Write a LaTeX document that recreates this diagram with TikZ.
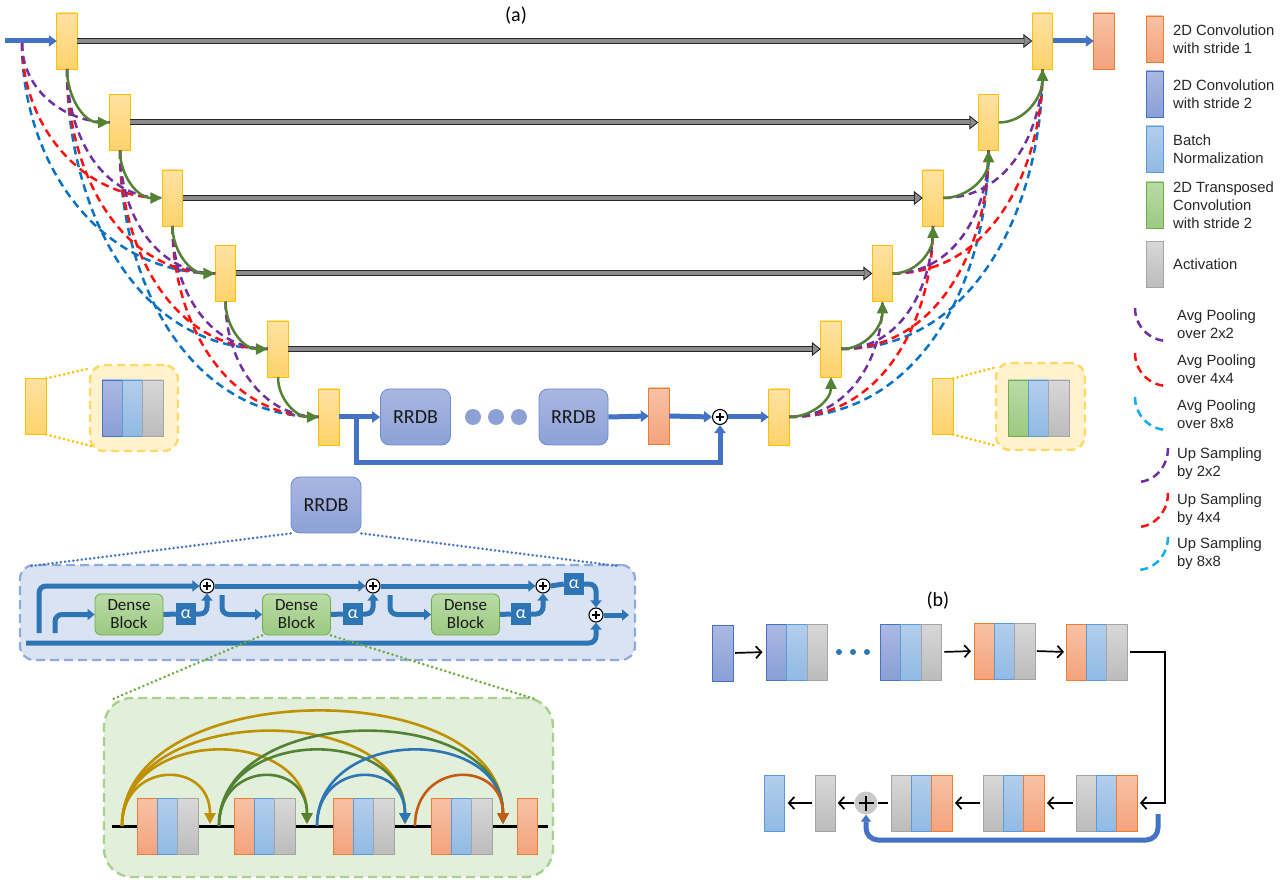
\documentclass[tikz,border=0pt]{standalone}
\usepackage{fontspec}
\setmainfont{Carlito}
\newfontfamily\legendfont{Liberation Sans}
\usetikzlibrary{arrows.meta,calc}

\definecolor{ylwT}{HTML}{FFE2A3}
\definecolor{ylwB}{HTML}{FFD36B}
\definecolor{ylwD}{HTML}{FFC000}
\definecolor{orgT}{HTML}{F7C2A6}
\definecolor{orgB}{HTML}{F4A37C}
\definecolor{orgD}{HTML}{ED7D31}
\definecolor{cvT}{HTML}{ABB9E2}
\definecolor{cvB}{HTML}{8A9FD6}
\definecolor{cvD}{HTML}{4472C4}
\definecolor{bnT}{HTML}{B3CEEC}
\definecolor{bnB}{HTML}{91BAE4}
\definecolor{bnD}{HTML}{5B9BD5}
\definecolor{acT}{HTML}{D8D8D8}
\definecolor{acB}{HTML}{BCBCBC}
\definecolor{acD}{HTML}{A5A5A5}
\definecolor{trT}{HTML}{BADBA6}
\definecolor{trB}{HTML}{9CC982}
\definecolor{trD}{HTML}{70AD47}
\definecolor{rbT}{HTML}{A9B7E1}
\definecolor{rbB}{HTML}{8DA1D7}
\definecolor{flow}{HTML}{4472C4}
\definecolor{flowdk}{HTML}{2E75B6}
\definecolor{upgreen}{HTML}{548235}
\definecolor{poolA}{HTML}{7030A0}
\definecolor{poolB}{HTML}{FF1010}
\definecolor{poolC}{HTML}{0A72C4}
\definecolor{poolCl}{HTML}{12AEEE}
\definecolor{gold}{HTML}{BF9000}
\definecolor{rust}{HTML}{C55A11}
\definecolor{insetY}{HTML}{FFF2CC}
\definecolor{insetYd}{HTML}{FFD966}
\definecolor{rrdbBg}{HTML}{DAE3F3}
\definecolor{rrdbBd}{HTML}{8FAADC}
\definecolor{denseBg}{HTML}{E2EFDA}
\definecolor{denseBd}{HTML}{A9D18E}
\definecolor{skipgray}{HTML}{8C8C8C}
\definecolor{sumgray}{HTML}{C9C9C9}

\tikzset{
  strip/.style={rectangle, inner sep=0pt, outer sep=0pt, minimum width=20.3pt, minimum height=56pt, line width=0.8pt},
  featc/.style={strip, draw=ylwD, top color=ylwT, bottom color=ylwB},
  cvone/.style={strip, draw=orgD, top color=orgT, bottom color=orgB},
  cvtwo/.style={strip, draw=cvD, top color=cvT, bottom color=cvB},
  bnrm/.style={strip, draw=bnD, top color=bnT, bottom color=bnB},
  actv/.style={strip, draw=acD, top color=acT, bottom color=acB},
  tcnv/.style={strip, draw=trD, top color=trT, bottom color=trB},
  legbox/.style={minimum width=17pt, minimum height=46pt},
  legtext/.style={anchor=west, inner sep=0pt, align=left, font=\legendfont\fontsize{14.8}{18}\selectfont, text=black!85},
  rrdb/.style={rectangle, rounded corners=9pt, draw=cvD!80, line width=0.8pt, top color=rbT, bottom color=rbB, minimum width=70pt, minimum height=56pt, font=\fontsize{20}{20}\selectfont, text=black!90},
  dense/.style={rectangle, rounded corners=6pt, draw=trD, line width=0.8pt, top color=trT, bottom color=trB, minimum width=68pt, minimum height=41pt, align=center, inner sep=0pt, font=\fontsize{17}{18}\selectfont, text=black!90},
  abox/.style={rectangle, fill=flowdk, text=white, minimum width=20pt, minimum height=22pt, inner sep=0pt, font=\fontsize{18}{18}\selectfont},
  oplus/.style={circle, draw=black, fill=white, line width=1.1pt, minimum size=14pt, inner sep=0pt,
     path picture={\draw[line width=2pt] ([xshift=-4pt]path picture bounding box.center) -- ([xshift=4pt]path picture bounding box.center) ([yshift=-4pt]path picture bounding box.center) -- ([yshift=4pt]path picture bounding box.center);}},
  sumnode/.style={circle, fill=sumgray, minimum size=23pt, inner sep=0pt,
     path picture={\draw[line width=1.9pt] ([xshift=-7.5pt]path picture bounding box.center) -- ([xshift=7.5pt]path picture bounding box.center) ([yshift=-7.5pt]path picture bounding box.center) -- ([yshift=7.5pt]path picture bounding box.center);}},
  pool/.style={line width=2.5pt, dash pattern=on 8pt off 5pt},
  upg/.style={draw=upgreen, line width=2.5pt, -{Triangle[length=12pt,width=11pt]}},
  skiparrow/.style={draw=black!85, line width=6pt, -{Triangle[length=9pt,width=14pt,line width=0.9pt,fill=skipgray]},
     postaction={draw=skipgray, line width=4pt, shorten >=8.5pt, -}},
  flowarr/.style={draw=flow, line width=5pt, -{Triangle[length=8pt,width=11pt]}},
  rrarr/.style={draw=flowdk, line width=5pt, rounded corners=7pt, -{Triangle[length=7pt,width=11pt]}},
  rrln/.style={draw=flowdk, line width=5pt, rounded corners=7pt},
  blkarr/.style={draw=black, line width=1.7pt, -{Straight Barb[length=5.5pt,width=12pt,line width=1.7pt]}},
  dcarc/.style={line width=2.6pt, -{Triangle[length=11pt,width=11pt]}},
  dotln/.style={line width=3pt, line cap=round, dash pattern=on 0.01pt off 4.6pt},
  insetbox/.style={rectangle, rounded corners=14pt, fill=insetY, draw=insetYd, line width=2.4pt, dash pattern=on 8pt off 5pt},
}

% three adjacent layer strips: name, left x, centre y, three styles
\newcommand\layerstack[6]{%
  \node[#4, anchor=west] (#1a) at (#2,#3) {};
  \node[#5, anchor=west] (#1b) at (#1a.east) {};
  \node[#6, anchor=west] (#1c) at (#1b.east) {};
}

\begin{document}
\begin{tikzpicture}[x=1pt,y=-1pt]
\useasboundingbox (0,0) rectangle (1286,882);

\node[font=\fontsize{20}{20}\selectfont] (ta) at (516,16) {(a)};

% ---------- U-Net feature blocks ----------
\node[featc] (E0) at (67,41) {};
\node[featc] (E1) at (120,122.5) {};
\node[featc] (E2) at (172.5,198) {};
\node[featc] (E3) at (225.5,273.5) {};
\node[featc] (E4) at (278,349) {};
\node[featc] (E5) at (329,417) {};
\node[featc] (D0) at (1042.5,41) {};
\node[featc] (D1) at (988.5,122.5) {};
\node[featc] (D2) at (933,198) {};
\node[featc] (D3) at (882.5,273.5) {};
\node[featc] (D4) at (831,349) {};
\node[featc] (D5) at (779,417) {};
\node[cvone] (OUT) at (1104,41) {};

\coordinate (inL) at (5,41);
\coordinate (in0) at (22,43);

% pooling paths on the encoder side
\foreach \s/\t in {in0/E3, E0.south/E4, E1.south/E5}
  \draw[pool, poolC] (\s) to[out=-90,in=180] (\t.west);
\foreach \s/\t in {in0/E2, E0.south/E3, E1.south/E4, E2.south/E5}
  \draw[pool, poolB] (\s) to[out=-90,in=180] (\t.west);
\foreach \s/\t in {in0/E1, E0.south/E2, E1.south/E3, E2.south/E4, E3.south/E5}
  \draw[pool, poolA] (\s) to[out=-90,in=180] (\t.west);

% up-sampling paths on the decoder side
\foreach \s/\t in {D4/D0, D5/D1}
  \draw[pool, poolC] (\s.east) to[out=0,in=-90] (\t.south);
\foreach \s/\t in {D3/D0, D4/D1, D5/D2}
  \draw[pool, poolB] (\s.east) to[out=0,in=-90] (\t.south);
\foreach \s/\t in {D2/D0, D3/D1, D4/D2, D5/D3}
  \draw[pool, poolA] (\s.east) to[out=0,in=-90] (\t.south);

% down / up paths
\foreach \a/\b in {E0/E1,E1/E2,E2/E3,E3/E4,E4/E5}
  \draw[upg] (\a.south) to[out=-90,in=180] (\b.west);
\foreach \a/\b in {D5/D4,D4/D3,D3/D2,D2/D1,D1/D0}
  \draw[upg] (\a.east) to[out=0,in=-90] (\b.south);

% skip connections
\foreach \i in {0,...,4}
  \draw[skiparrow] (E\i.east) -- (D\i.west);

\draw[flowarr] (inL) -- (E0.west);
\draw[flowarr] (D0.east) -- (OUT.west);

% ---------- bottleneck ----------
\node[rrdb] (R1) at (415.5,417) {RRDB};
\node[rrdb, minimum width=69pt] (R2) at (573.5,417) {RRDB};
\foreach \x [count=\k] in {473,496,519}
  \node[circle, fill=rbB, minimum size=16pt, inner sep=0pt] (dot\k) at (\x,417) {};
\node[cvone] (BO) at (659,416) {};
\node[oplus, minimum size=15pt] (BA) at (720,417) {};
\coordinate (lp) at (356,417);
\coordinate (lq) at (356,463);
\draw[flowarr] (E5.east) -- (R1.west);
\draw[flowarr] (lp) -- (lq) -| (BA.south);
\draw[flowarr] (R2.east) -- (BO.west);
\draw[flowarr] (BO.east) -- (BA.west);
\draw[flowarr] (BA.east) -- (D5.west);

% ---------- block insets ----------
\node[featc] (LS) at (36,406.5) {};
\node[insetbox, minimum width=88pt, minimum height=86pt] (LB) at (134,408) {};
\layerstack{lb}{102}{408}{cvtwo}{bnrm}{actv}
\coordinate (lbt) at (91,368);
\coordinate (lbb) at (91,446);
\draw[dotln, ylwD] (LS.north east) -- (lbt);
\draw[dotln, ylwD] (LS.south east) -- (lbb);

\node[featc] (RS) at (943,406.5) {};
\node[insetbox, minimum width=89pt, minimum height=87pt] (RBX) at (1040.5,406.5) {};
\layerstack{rb}{1008}{408}{tcnv}{bnrm}{actv}
\coordinate (rbt) at (997,367);
\coordinate (rbb) at (997,446);
\draw[dotln, ylwD] (RS.north east) -- (rbt);
\draw[dotln, ylwD] (RS.south east) -- (rbb);

% ---------- RRDB detail ----------
\node[rrdb] (RS1) at (326,505) {RRDB};
\node[rectangle, rounded corners=14pt, fill=rrdbBg, draw=rrdbBd, line width=2.2pt, dash pattern=on 9pt off 5pt, minimum width=615pt, minimum height=95pt] (RBOX) at (327.5,612.5) {};
\coordinate (rbl) at (31,566);
\coordinate (rbr) at (618,566);
\draw[dotln, flow, line width=2.8pt, dash pattern=on 0.01pt off 4.2pt] (RS1.south west) -- (rbl);
\draw[dotln, flow, line width=2.8pt, dash pattern=on 0.01pt off 4.2pt] (RS1.south east) -- (rbr);

\node[dense] (DB1) at (129,614.5) {Dense\\Block};
\node[dense] (DB2) at (296.5,614.5) {Dense\\Block};
\node[dense] (DB3) at (465.5,614.5) {Dense\\Block};
\node[abox] (al1) at (186,614) {α};
\node[abox] (al2) at (353,614) {α};
\node[abox] (al3) at (521,614) {α};
\node[abox] (al4) at (574,584) {α};
\node[oplus] (c1) at (207,586) {};
\node[oplus] (c2) at (373,586) {};
\node[oplus] (c3) at (543,586) {};
\node[oplus] (c4) at (596,615) {};
\coordinate (ra) at (39,633);
\coordinate (rb) at (55,633);
\coordinate (rc) at (222,595);
\coordinate (rd) at (390,595);
\coordinate (re) at (26,643);
\coordinate (rf) at (629,615);

\draw[rrarr] (ra) |- (c1.west);
\draw[rrarr] (rb) |- (DB1.west);
\draw[rrln] (DB1.east) -- (al1.west);
\draw[rrarr] (al1.east) -| (c1.south);
\draw[rrarr] (c1.east) -- (c2.west);
\draw[rrarr] (rc) |- (DB2.west);
\draw[rrln] (DB2.east) -- (al2.west);
\draw[rrarr] (al2.east) -| (c2.south);
\draw[rrarr] (c2.east) -- (c3.west);
\draw[rrarr] (rd) |- (DB3.west);
\draw[rrln] (DB3.east) -- (al3.west);
\draw[rrarr] (al3.east) -| (c3.south);
\draw[rrln] (c3.east) -- (al4.west);
\draw[rrarr] (al4.east) -| (c4.north);
\draw[rrarr] (re) -| (c4.south);
\draw[rrarr] (c4.east) -- (rf);

% ---------- dense block detail ----------
\node[rectangle, rounded corners=28pt, fill=denseBg, draw=denseBd, line width=2.4pt, dash pattern=on 9pt off 5pt, minimum width=449pt, minimum height=179pt] (GBOX) at (328.5,787.5) {};
\coordinate (gbl) at (113,699);
\coordinate (gbr) at (535,699);
\draw[dotln, trD] (DB2.south west) -- (gbl);
\draw[dotln, trD] (DB2.south east) -- (gbr);

\coordinate (bl) at (112,826);
\coordinate (br) at (548,826);
\draw[line width=3pt] (bl) -- (br);
\layerstack{h1}{137}{826.5}{cvone}{bnrm}{actv}
\layerstack{h2}{234}{826.5}{cvone}{bnrm}{actv}
\layerstack{h3}{333}{826.5}{cvone}{bnrm}{actv}
\layerstack{h4}{431}{826.5}{cvone}{bnrm}{actv}
\node[cvone] (h5) at (527.5,826.5) {};

\coordinate (s0) at (122,826);
\coordinate (s1) at (219,826);
\coordinate (s2) at (317,826);
\coordinate (s3) at (415,826);
\coordinate (t1) at (210,824);
\coordinate (t2) at (307,824);
\coordinate (t3) at (405,824);
\coordinate (t4) at (503,824);
\foreach \s/\t/\c/\k in {s0/t4/gold/151, s0/t3/gold/124, s0/t2/gold/99, s0/t1/gold/65,
                         s1/t4/upgreen/124, s1/t3/upgreen/99, s1/t2/upgreen/65,
                         s2/t4/flowdk/99, s2/t3/flowdk/65, s3/t4/rust/65}
  \draw[dcarc, \c] (\s) .. controls ($(\s)+(0,-\k)$) and ($(\t)+(0,-\k)$) .. (\t);

% ---------- legend ----------
\node[cvone, legbox] (k1) at (1154.5,39) {};
\node[cvtwo, legbox] (k2) at (1154.5,94) {};
\node[bnrm, legbox] (k3) at (1154.5,149) {};
\node[tcnv, legbox] (k4) at (1154.5,205) {};
\node[actv, legbox] (k5) at (1154.5,264.5) {};
\node[legtext] (k1t) at (1173,39) {2D Convolution\\with stride 1};
\node[legtext] (k2t) at (1173,94) {2D Convolution\\with stride 2};
\node[legtext] (k3t) at (1173,149) {Batch\\Normalization};
\node[legtext] (k4t) at (1173,205) {2D Transposed\\Convolution\\with stride 2};
\node[legtext] (k5t) at (1173,264.5) {Activation};

\draw[pool, poolA] (1135,308) to[out=-90,in=180] (1168,341);
\draw[pool, poolB] (1135,353) to[out=-90,in=180] (1168,386);
\draw[pool, poolCl] (1135,397) to[out=-90,in=180] (1168,430);
\draw[pool, poolA] (1168,448) to[out=-90,in=0] (1137,482);
\draw[pool, poolB] (1168,493) to[out=-90,in=0] (1137,527);
\draw[pool, poolCl] (1168,537) to[out=-90,in=0] (1137,570);
\node[legtext] (p1t) at (1177,324.5) {Avg Pooling\\over 2x2};
\node[legtext] (p2t) at (1177,369.5) {Avg Pooling\\over 4x4};
\node[legtext] (p3t) at (1177,414) {Avg Pooling\\over 8x8};
\node[legtext] (u1t) at (1177,464) {Up Sampling\\by 2x2};
\node[legtext] (u2t) at (1177,509.5) {Up Sampling\\by 4x4};
\node[legtext] (u3t) at (1177,553.5) {Up Sampling\\by 8x8};

% ---------- (b) ----------
\node[font=\fontsize{20}{20}\selectfont] (tb) at (938,601) {(b)};
\node[cvtwo] (b0) at (723,653) {};
\layerstack{g1}{766.5}{652}{cvtwo}{bnrm}{actv}
\foreach \x [count=\k] in {839,853,867}
  \node[circle, fill=flowdk, minimum size=6pt, inner sep=0pt] (bd\k) at (\x,652) {};
\layerstack{g2}{880.5}{652}{cvtwo}{bnrm}{actv}
\layerstack{g3}{974}{651}{cvone}{bnrm}{actv}
\layerstack{g4}{1066}{652}{cvone}{bnrm}{actv}
\draw[blkarr, shorten <=2pt, shorten >=4pt] (b0.east) -- (g1a.west);
\draw[blkarr, shorten <=3pt, shorten >=3pt] (g2c.east) -- (g3a.west);
\draw[blkarr, shorten <=2pt, shorten >=2pt] (g3c.east) -- (g4a.west);

\layerstack{g5}{1076}{803}{actv}{bnrm}{cvone}
\layerstack{g6}{983}{803}{actv}{bnrm}{cvone}
\layerstack{g7}{891}{803}{actv}{bnrm}{cvone}
\node[sumnode] (sum) at (866,803) {};
\node[actv] (gy) at (825.5,803) {};
\node[bnrm] (gb) at (774.5,803) {};
\coordinate (bturn) at (1165,652);
\draw[blkarr, shorten <=3pt, shorten >=3pt] (g4c.east) -- (bturn) |- (g5c.east);
\draw[blkarr, shorten <=3pt, shorten >=3pt] (g5a.west) -- (g6c.east);
\draw[blkarr, shorten <=3pt, shorten >=3pt] (g6a.west) -- (g7c.east);
\draw[line width=1.7pt, shorten <=3pt] (g7a.west) -- (sum.east);
\draw[blkarr, line width=2.4pt, shorten >=2pt] (sum.west) -- (gy.east);
\draw[blkarr, shorten <=3pt, shorten >=3pt] (gy.west) -- (gb.east);
\coordinate (bsk) at (1158,814);
\coordinate (bsl) at (1158,840);
\draw[flowarr, rounded corners=12pt, -{Triangle[length=7pt,width=10pt]}] (bsk) -- (bsl) -| (sum.south);
\end{tikzpicture}
\end{document}
